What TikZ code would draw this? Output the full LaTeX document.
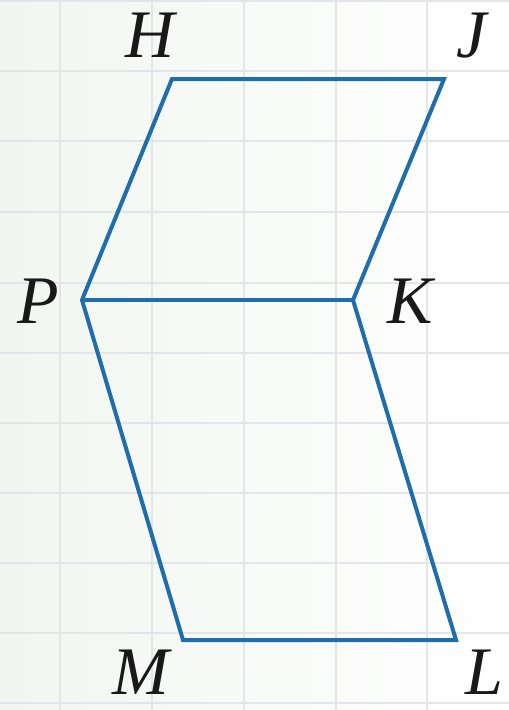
\documentclass[tikz,border=0pt]{standalone}
\usepackage{fontspec}
\setmainfont{Liberation Serif}
\begin{document}
\begin{tikzpicture}[x=1pt,y=-1pt,
  edge/.style={draw=figblue,line width=4pt,line join=miter},
  gridline/.style={draw=gridgray,line width=2pt},
  lbl/.style={font=\fontsize{68}{68}\selectfont\itshape,inner sep=0pt,anchor=base,text=black!90}]
\definecolor{figblue}{HTML}{1F6DAA}
\definecolor{gridgray}{HTML}{E4E5E8}
\definecolor{bgleft}{HTML}{F1F6F0}
\useasboundingbox (0,0) rectangle (509,710);
\shade[left color=bgleft,right color=white] (0,0) rectangle (509,710);
\foreach \x in {60,152,244,336,427} \draw[gridline] (\x,0) -- (\x,710);
\foreach \y in {1,71,141,212,283,353,423,493,563,633,703} \draw[gridline] (0,\y) -- (509,\y);
\coordinate (H) at (172,79);
\coordinate (J) at (444,79);
\coordinate (P) at (82,300);
\coordinate (K) at (353,300);
\coordinate (M) at (183,640);
\coordinate (L) at (456,640);
\draw[edge] (P) -- (H) -- (J) -- (K) -- (L) -- (M) -- cycle;
\draw[edge] (P) -- (K);
\node[lbl] (tH) at (150,57) {H};
\node[lbl] (tJ) at (472,57) {J};
\node[lbl] (tP) at (38,323) {P};
\node[lbl] (tK) at (410,323) {K};
\node[lbl] (tM) at (141,694) {M};
\node[lbl] (tL) at (484,694) {L};
\end{tikzpicture}
\end{document}
